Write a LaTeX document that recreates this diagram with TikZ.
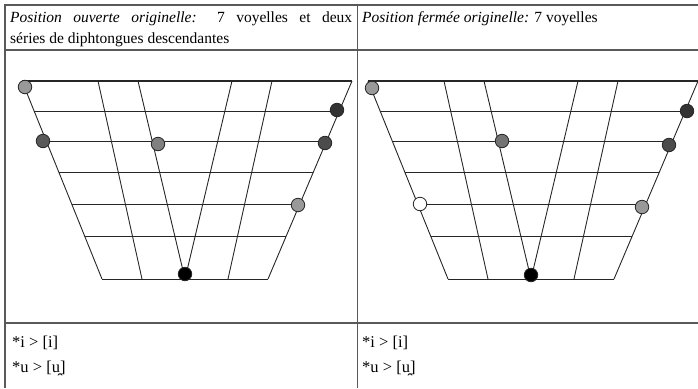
\documentclass[tikz,border=0pt]{standalone}
\usepackage{fontspec}
\setmainfont{Liberation Serif}
\tikzset{cell/.style={inner sep=0pt,anchor=base west,font=\fontsize{15.5bp}{19bp}\selectfont},
  change/.style={cell,font=\fontsize{16.5bp}{19bp}\selectfont},
  rule/.style={line width=1.6bp,black!65},
  grid/.style={line width=.9bp,black!85},
  vowel/.style={circle,draw=black!85,line width=.8bp,minimum size=13.5bp,inner sep=0pt}}

\begin{document}
\begin{tikzpicture}[x=1bp,y=-1bp]
\useasboundingbox(0,0) rectangle (698,388);
% table rules
\draw[rule](698,5)--(5,5)--(5,388);\draw[rule](5,50)--(698,50) (5,323)--(698,323);\draw[rule,line width=1bp](357,5)--(357,388);
% header texts
\node[cell](headopen)at(10,22){\makebox[342bp][s]{\textit{Position ouverte originelle:} 7 voyelles et deux}};
\node[cell](headopenb)at(10,43){séries de diphtongues descendantes};
\node[cell](headclosed)at(362,22){\textit{Position fermée originelle:} 7 voyelles};
% the two vowel trapezoids
\foreach \dx in {0,346}{
\foreach \yy in {81,111,141,172,204,236,279}{\pgfmathsetmacro{\xl}{\dx+22+(\yy-81)/198*80}\pgfmathsetmacro{\xr}{\dx+352-(\yy-81)/198*84}\draw[grid](\xl,\yy)--(\xr,\yy);}
\foreach \xt/\xb in {22/102,98/142,138/185,232/185,272/228,352/268}{\draw[grid]({\dx+\xt},81)--({\dx+\xb},279);}
\draw[grid,line width=1.5bp]({\dx+22},81)--({\dx+352},81);}
% vowels, open position
\node[vowel,fill=black!40](opa)at(25,87){};\node[vowel,fill=black!80](opb)at(337,110){};
\node[vowel,fill=black!65](opc)at(43,141){};\node[vowel,fill=black!50](opd)at(158,144){};
\node[vowel,fill=black!70](ope)at(325,143){};\node[vowel,fill=black!40](opf)at(298,205){};
\node[vowel,fill=black](opg)at(185,274){};
% vowels, closed position
\node[vowel,fill=black!40](cla)at(372,88){};\node[vowel,fill=black!80](clb)at(687,111){};
\node[vowel,fill=black!55](clc)at(502,141){};\node[vowel,fill=black!70](cld)at(669,145){};
\node[vowel,fill=white](cle)at(420,204){};\node[vowel,fill=black!40](clf)at(642,207){};
\node[vowel,fill=black](clg)at(531,275){};
% sound changes
\node[change](opi)at(12,347){*i > [i]};\node[change](opu)at(12,372){*u > [u̯]};
\node[change](cli)at(362,347){*i > [i]};\node[change](clu)at(362,372){*u > [u̯]};
\end{tikzpicture}
\end{document}
